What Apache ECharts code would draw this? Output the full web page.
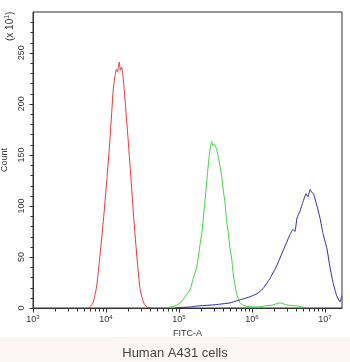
<!DOCTYPE html>
<html>
<head>
<meta charset="utf-8">
<script src="https://cdn.jsdelivr.net/npm/echarts@6/dist/echarts.min.js"></script>
<style>
html, body { margin: 0; padding: 0; background: #fff; }
#main { width: 350px; height: 362px; }
</style>
</head>
<body>
<div id="main"></div>
<script>
// x values are log10(FITC-A) exponents, y values are counts (x 10^1)
var redX   = [3.767, 3.822, 3.873, 3.918, 3.963, 4.010, 4.055, 4.100, 4.123, 4.144, 4.158, 4.171, 4.182, 4.196, 4.212, 4.237, 4.284, 4.329, 4.374, 4.421, 4.466, 4.511, 4.558, 4.630];
var redY   = [0, 5, 22, 52, 85, 124, 166, 215, 227, 234, 231, 237, 241, 233, 236, 224, 183, 140, 94, 52, 19, 6, 1, 0];

var greenX = [4.849, 4.945, 5.014, 5.082, 5.151, 5.192, 5.242, 5.288, 5.315, 5.356, 5.401, 5.425, 5.448, 5.466, 5.484, 5.507, 5.534, 5.585, 5.607, 5.630, 5.653, 5.675, 5.699, 5.722, 5.744, 5.790, 5.836, 5.877, 5.932, 6.068, 6.178, 6.288, 6.384, 6.479, 6.616, 6.726];
var greenY = [0.5, 2, 5, 11, 18, 28, 40, 62, 75, 105, 140, 155, 163, 159, 161, 157, 150, 129, 115, 103, 85, 74, 58, 48, 33, 14, 5, 3, 1.5, 1, 2, 3, 5, 3, 2, 0.5];

var blueX  = [4.945, 5.014, 5.151, 5.247, 5.466, 5.699, 5.836, 5.973, 6.068, 6.151, 6.247, 6.342, 6.425, 6.521, 6.562, 6.589, 6.616, 6.658, 6.699, 6.740, 6.767, 6.795, 6.822, 6.842, 6.890, 6.932, 6.973, 7.027, 7.068, 7.110, 7.160, 7.205, 7.233];
var blueY  = [0, 0.5, 1, 2, 3, 5, 8, 11, 14, 19, 29, 42, 56, 72, 77, 75, 88, 95, 104, 112, 109, 116, 113, 112, 100, 88, 73, 58, 40, 25, 12, 6, 12];

var xMajor = [3, 4, 5, 6, 7];
var yLabels = [0, 50, 100, 150, 200, 250];

var xMin = 3, xMax = 7.233, yMax = 290;

var xMinor = [];
for (var n = 3; n <= 7; n++) {
    for (var k = 2; k <= 9; k++) {
        var v = n + Math.log10(k);
        if (v <= xMax) xMinor.push(v);
    }
}
var yMinor = [];
for (var t = 0; t < yMax; t += 10) if (t % 50) yMinor.push(t);

function pairs(xs, ys) {
    var out = [];
    for (var i = 0; i < xs.length; i++) out.push([xs[i], ys[i]]);
    return out;
}

var dom = document.getElementById('main');
var myChart = echarts.init(dom, null, { renderer: 'canvas' });
var fontFam = '"Liberation Sans", Arial, sans-serif';
var axisColor = '#333';

var baseGraphic = [
    { id: 'band', type: 'rect', left: 0, top: 337, shape: { width: 350, height: 25 }, style: { fill: '#fdf6f4' }, z: -10 },
    {
        id: 'unit', type: 'text', x: 4, y: 41, rotation: Math.PI / 2,
        style: {
            text: '(x 10{s|1})', fill: '#333', font: '10px ' + fontFam,
            rich: { s: { fontSize: 7, verticalAlign: 'top', padding: [0, 0, 5, 0] } }
        }
    }
];

var option = {
    animation: false,
    backgroundColor: '#fff',
    tooltip: { show: false },
    graphic: baseGraphic,
    title: {
        text: 'Human A431 cells',
        left: 'center',
        top: 342,
        textStyle: { fontSize: 13, fontWeight: 'normal', color: '#444', fontFamily: fontFam }
    },
    grid: {
        left: 33, right: 8, top: 12, bottom: 54,
        outerBoundsMode: 'none', containLabel: false,
        show: true, borderColor: axisColor, borderWidth: 1, backgroundColor: 'transparent'
    },
    xAxis: {
        type: 'value', min: xMin, max: xMax, position: 'bottom',
        name: 'FITC-A', nameLocation: 'middle', nameGap: 21,
        nameTextStyle: { fontSize: 9, color: '#333', fontFamily: fontFam },
        axisLine: { show: true, onZero: false, lineStyle: { color: axisColor } },
        axisTick: { show: false },
        axisLabel: {
            customValues: xMajor, margin: 6, color: '#333', fontSize: 9, fontFamily: fontFam,
            formatter: function (v) { return '10{s|' + Math.round(v) + '}'; },
            rich: { s: { fontSize: 6, verticalAlign: 'top', padding: [0, 0, 5, 0], color: '#333' } }
        },
        splitLine: { show: false }
    },
    yAxis: {
        type: 'value', min: 0, max: yMax, position: 'left',
        name: 'Count', nameLocation: 'middle', nameGap: 17,
        nameTextStyle: { fontSize: 9, color: '#333', fontFamily: fontFam },
        axisLine: { show: true, onZero: false, lineStyle: { color: axisColor } },
        axisTick: { show: false },
        axisLabel: { customValues: yLabels, rotate: 90, margin: 7, color: '#333', fontSize: 9, fontFamily: fontFam },
        splitLine: { show: false }
    },
    series: [
        { type: 'line', data: pairs(redX, redY), showSymbol: false, smooth: 0.2, lineStyle: { color: '#e43a36', width: 1 }, z: 3 },
        { type: 'line', data: pairs(greenX, greenY), showSymbol: false, smooth: 0.2, lineStyle: { color: '#3fd33f', width: 1 }, z: 3 },
        { type: 'line', data: pairs(blueX, blueY), showSymbol: false, smooth: 0.1, lineStyle: { color: '#2b2ba6', width: 1 }, z: 3 }
    ]
};

if (option && typeof option === "object") {
    myChart.setOption(option, true);
}

// tick marks: positions come from the chart's own scales via convertToPixel
var ticks = [];
function addTick(id, val, len, horizontal) {
    var p = myChart.convertToPixel({ gridIndex: 0 }, horizontal ? [xMin, val] : [val, 0]);
    if (!p) return;
    var x = Math.round(p[0]) + 0.5, y = Math.round(p[1]) + 0.5;
    ticks.push({
        id: id, type: 'line', silent: true, z: 10,
        shape: horizontal ? { x1: x - len, y1: y, x2: x, y2: y } : { x1: x, y1: y, x2: x, y2: y + len },
        style: { stroke: axisColor, lineWidth: 1 }
    });
}
xMajor.forEach(function (v, i) { addTick('xM' + i, v, 4, false); });
xMinor.forEach(function (v, i) { addTick('xm' + i, v, 3, false); });
yLabels.forEach(function (v, i) { addTick('yM' + i, v, 4, true); });
yMinor.forEach(function (v, i) { addTick('ym' + i, v, 3, true); });
myChart.setOption({ graphic: baseGraphic.concat(ticks) });
</script>
</body>
</html>
